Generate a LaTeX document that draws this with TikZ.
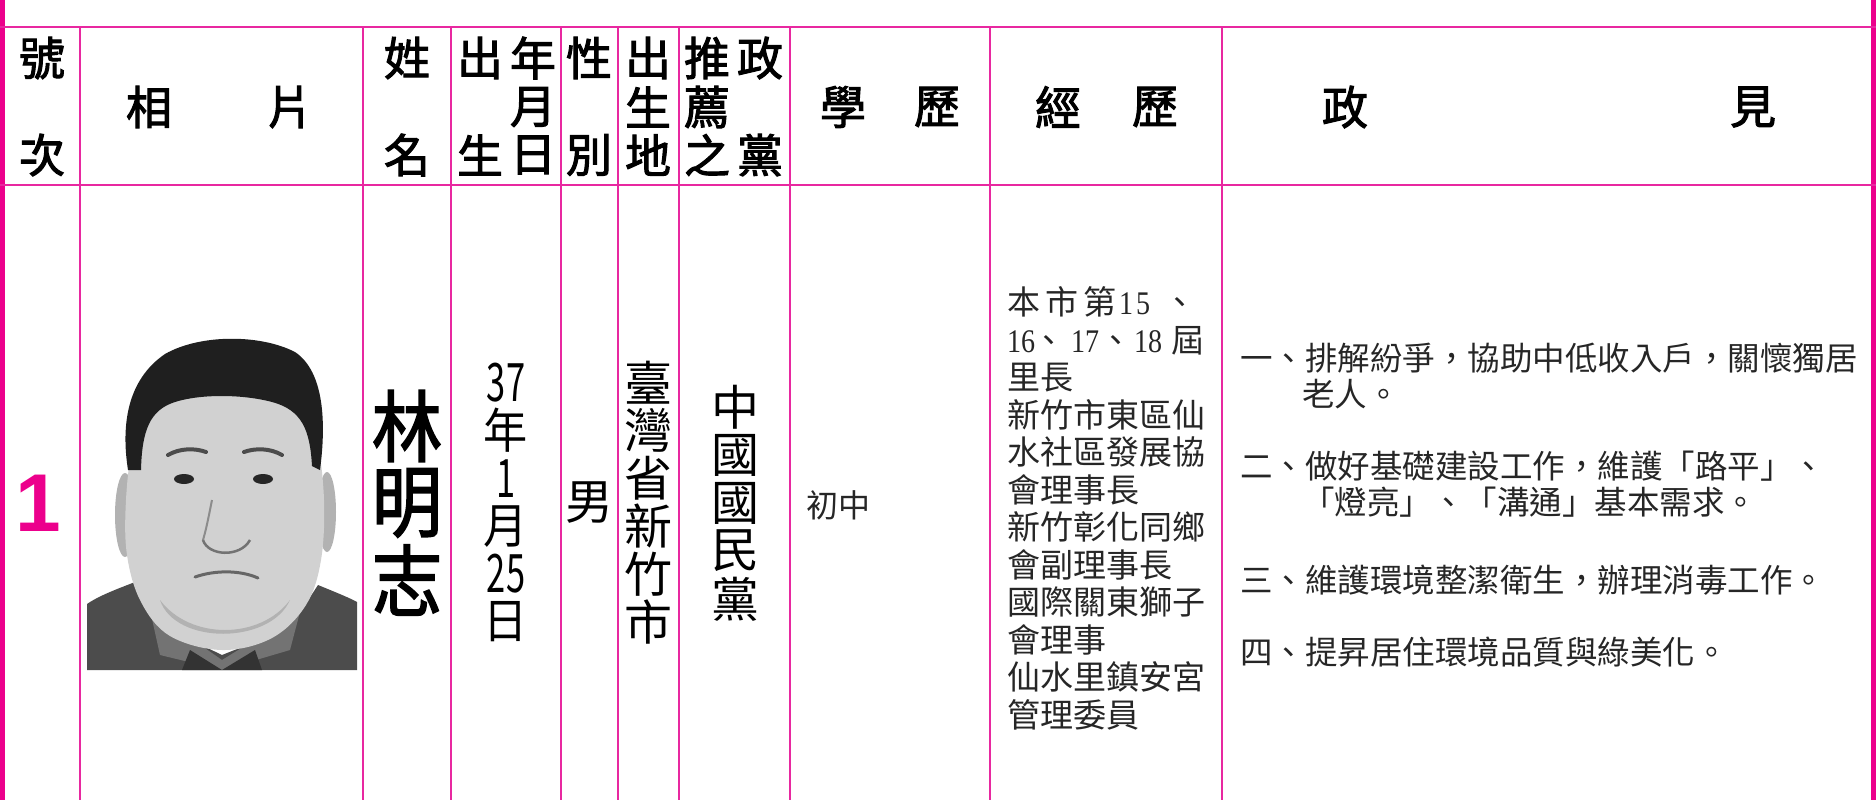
\documentclass[tikz,border=0pt]{standalone}
\usepackage{fontspec}
\usepackage{graphicx}
\newfontfamily\hei{Noto Sans CJK TC}
\newfontfamily\heib{Noto Sans CJK TC}[FakeBold=2.2]
\newfontfamily\arl{Liberation Sans}
\newfontfamily\tms{Liberation Serif}
\definecolor{mag}{RGB}{236,0,140}
\definecolor{lnmag}{RGB}{232,40,160}
\newcommand{\sx}[2]{\scalebox{#1}[1]{#2}}
\tikzset{
  hd/.style={font=\heib\fontsize{46}{46}\selectfont, inner sep=0pt, anchor=center},
  nm/.style={font=\heib\fontsize{78}{78}\selectfont, inner sep=0pt},
  vt/.style={font=\hei\fontsize{48}{48}\selectfont, inner sep=0pt},
  ex/.style={font=\hei\fontsize{33}{33}\selectfont, inner sep=0pt, anchor=base west, text=black!85},
  pl/.style={font=\hei\fontsize{32.5}{32.5}\selectfont, inner sep=0pt, anchor=base west, text=black!85},
  vline/.style={draw=lnmag, line width=1.5pt},
  hline/.style={draw=lnmag, line width=2.5pt},
  border/.style={draw=mag, line width=5pt},
}
\begin{document}
\begin{tikzpicture}[x=1pt,y=-1pt]
\useasboundingbox (0,0) rectangle (1876,800);
% grid
\draw[border] (2.5,0) -- (2.5,800);
\draw[border] (1873.5,0) -- (1873.5,800);
\draw[hline] (0,27) -- (1876,27);
\draw[hline] (0,185) -- (1876,185);
\foreach \x in {80,363,451,561,618,679,790,990,1222}
  \draw[vline] (\x,27) -- (\x,800);
% header
\foreach \c/\x/\y [count=\i] in {號/42/58, 次/42/155, 相/149/107, 片/290/107,
  姓/407/58, 名/407/155, 出/480/58, 年/533/58, 月/533/107, 生/480/155, 日/533/155,
  性/589/58, 別/589/155, 出/648/58, 生/648/107, 地/648/155,
  推/707/58, 政/760/58, 薦/707/107, 之/707/155, 黨/760/155,
  學/843/107, 歷/937/107, 經/1058/107, 歷/1155/107, 政/1345/107, 見/1753/107}
  \node[hd] (h\i) at (\x,\y) {\c};
% number
\node[inner sep=0pt, text=mag, font=\arl\bfseries\fontsize{82}{82}\selectfont] (num) at (38,503) {1};
% photo (stylised)
\fill[black!70] (87,604) .. controls (100,595) and (120,588) .. (135,582)
  -- (160,625) -- (222,655) -- (290,628) -- (318,585)
  .. controls (335,592) and (350,598) .. (357,602) -- (357,670) -- (87,670) -- cycle;
\fill[black!55] (150,610) -- (222,660) -- (300,612) -- (290,650) -- (222,670) -- (160,655) -- cycle;
\fill[black!80] (190,650) -- (222,670) -- (255,650) -- (262,670) -- (182,670) -- cycle;
\fill[black!30] (125,515) ellipse [x radius=10, y radius=42];
\fill[black!30] (327,512) ellipse [x radius=9, y radius=40];
\fill[black!18] plot[smooth cycle, tension=0.6] coordinates {(133,440) (145,408) (180,394) (225,390) (272,394) (303,408) (317,440) (324,500) (321,560) (306,605) (272,638) (222,650) (170,636) (141,602) (127,555) (126,500)};
\fill[black!30] (160,600) .. controls (190,640) and (260,640) .. (290,600) .. controls (270,645) and (175,645) .. cycle;
\fill[black!88] (128,470) .. controls (121,425) and (127,380) .. (165,354)
  .. controls (200,334) and (260,334) .. (295,352)
  .. controls (325,372) and (326,425) .. (320,470)
  -- (312,466) .. controls (310,430) and (302,410) .. (272,402)
  .. controls (242,394) and (200,394) .. (175,402)
  .. controls (150,410) and (142,430) .. (141,470) -- cycle;
\draw[black!70, line width=4pt, line cap=round] (168,455) .. controls (180,448) and (195,448) .. (206,452);
\draw[black!70, line width=4pt, line cap=round] (244,452) .. controls (255,448) and (270,448) .. (282,455);
\fill[black!85] (184,479) ellipse [x radius=10, y radius=5];
\fill[black!85] (263,479) ellipse [x radius=10, y radius=5];
\draw[black!55, line width=2.5pt] (203,540) .. controls (208,556) and (240,558) .. (250,540);
\draw[black!45, line width=2pt] (212,500) .. controls (208,520) and (206,530) .. (203,540);
\draw[black!60, line width=3pt, line cap=round] (195,577) .. controls (215,570) and (240,570) .. (258,578);
% name
\node[nm] (n1) at (407,426) {\sx{0.9}{林}};
\node[nm] (n2) at (407,503) {\sx{0.9}{明}};
\node[nm] (n3) at (407,580) {\sx{0.9}{志}};
% date
\node[vt] (d1) at (506,383) {\sx{0.65}{\fontsize{53}{53}\selectfont 37}};
\node[vt] (d2) at (506,430) {\sx{0.92}{年}};
\node[vt] (d3) at (506,479) {\sx{0.65}{\fontsize{53}{53}\selectfont 1}};
\node[vt] (d4) at (506,527) {\sx{0.92}{月}};
\node[vt] (d5) at (506,574) {\sx{0.65}{\fontsize{53}{53}\selectfont 25}};
\node[vt] (d6) at (506,622) {\sx{0.92}{日}};
% gender
\node[vt] (g1) at (589,503) {男};
% birthplace
\foreach \c [count=\i] in {臺,灣,省,新,竹,市}
  \node[vt] (b\i) at (648,{383+47.8*(\i-1)}) {\c};
% party
\foreach \c [count=\i] in {中,國,國,民,黨}
  \node[vt] (p\i) at (735,{407+48*(\i-1)}) {\c};
% education
\node[font=\hei\fontsize{32}{32}\selectfont, inner sep=0pt, anchor=base west, text=black!85] (edu) at (806,517) {初中};
% experience
\node[ex] (e1a) at (1007,314.5) {本};
\node[ex] (e1b) at (1045,314.5) {市};
\node[ex] (e1c) at (1083,314.5) {第};
\node[ex] (e1d) at (1119,314.5) {\sx{0.85}{\tms 1}};
\node[ex] (e1e) at (1136,314.5) {\sx{0.85}{\tms 5}};
\node[ex] (e1f) at (1163,314.5) {、};
\node[ex] (e2a) at (1007,352) {\sx{0.85}{\tms 16}};
\node[ex] (e2b) at (1032,352) {、};
\node[ex] (e2c) at (1071,352) {\sx{0.85}{\tms 17}};
\node[ex] (e2d) at (1099,352) {、};
\node[ex] (e2e) at (1134,352) {\sx{0.85}{\tms 18}};
\node[ex] (e2f) at (1171,352) {屆};
\foreach \t/\y [count=\i] in {里長/389.5, 新竹市東區仙/427, 水社區發展協/464.5, 會理事長/502,
  新竹彰化同鄉/539.5, 會副理事長/577, 國際關東獅子/614.5, 會理事/652,
  仙水里鎮安宮/689.5, 管理委員/727}
  \node[ex] (e\i) at (1007,\y) {\t};
% policy
\node[pl] (q1) at (1240,370.4) {一、排解紛爭，協助中低收入戶，關懷獨居};
\node[pl] (q2) at (1302,406.4) {老人。};
\node[pl] (q3) at (1240,478.4) {二、做好基礎建設工作，維護「路平」、};
\node[pl] (q4) at (1302,514.4) {「燈亮」、「溝通」基本需求。};
\node[pl] (q5) at (1240,592.4) {三、維護環境整潔衛生，辦理消毒工作。};
\node[pl] (q6) at (1240,664.4) {四、提昇居住環境品質與綠美化。};
\end{tikzpicture}
\end{document}
